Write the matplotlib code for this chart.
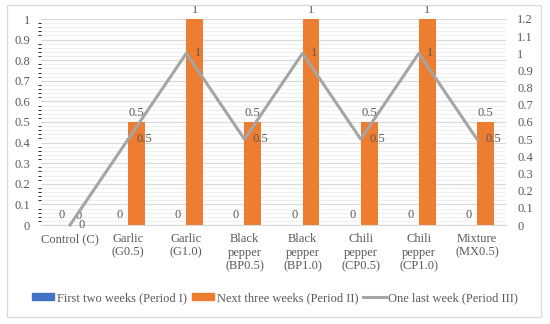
import numpy as np
import matplotlib.pyplot as plt
from matplotlib.patches import Rectangle
from matplotlib.lines import Line2D

# --- data ---
categories = ['Control (C)', 'Garlic\n(G0.5)', 'Garlic\n(G1.0)', 'Black\npepper\n(BP0.5)',
              'Black\npepper\n(BP1.0)', 'Chili\npepper\n(CP0.5)', 'Chili\npepper\n(CP1.0)',
              'Mixture\n(MX0.5)']
period1 = [0, 0, 0, 0, 0, 0, 0, 0]
period2 = [0, 0.5, 1, 0.5, 1, 0.5, 1, 0.5]
period3 = [0, 0.5, 1, 0.5, 1, 0.5, 1, 0.5]
series_names = ['First two weeks (Period I)', 'Next three weeks (Period II)',
                'One last week (Period III)']

BLUE, ORANGE, GRAY = '#4472C4', '#ED7D31', '#A5A5A5'
TXT = '#595959'
FONT = 'Liberation Serif'

plt.rcParams['font.family'] = [FONT, 'DejaVu Serif']

fig = plt.figure(figsize=(5.5, 3.24), dpi=100)
ax = fig.add_axes([41 / 550, 1 - 225 / 324, 465 / 550, 206 / 324])
ax2 = ax.twinx()

x = np.arange(len(categories))
w = 0.29

# gridlines
ax.set_ylim(0, 1)
ax.set_yticks(np.arange(0, 1.01, 0.1))
ax.set_yticks(np.arange(0, 1.001, 0.02), minor=True)
ax.yaxis.grid(True, which='minor', color='#F0F0F0', lw=0.8)
ax.yaxis.grid(True, which='major', color='#D9D9D9', lw=0.9)
ax.set_axisbelow(True)

b1 = ax.bar(x - w / 2, period1, w, color=BLUE, zorder=2)
b2 = ax.bar(x + w / 2, period2, w, color=ORANGE, zorder=2)

for xi, v in zip(x, period1):
    ax.annotate(f'{v:g}', (xi - w / 2, v), xytext=(0, 3), textcoords='offset points',
                ha='center', va='bottom', fontsize=9, color=TXT)
for xi, v in zip(x, period2):
    ax.annotate(f'{v:g}', (xi + w / 2, v), xytext=(0, 2), textcoords='offset points',
                ha='center', va='bottom', fontsize=9, color=TXT, annotation_clip=False)

ax2.set_ylim(0, 1.2)
ax2.set_yticks(np.arange(0, 1.21, 0.1))
ax2.plot(x, period3, color=GRAY, lw=2.2, zorder=3, clip_on=False)
for xi, v in zip(x, period3):
    ax2.annotate(f'{v:g}', (xi, v), xytext=(6, 0), textcoords='offset points',
                 ha='left', va='center', fontsize=9, color=TXT)

ax.set_xlim(-0.5, len(categories) - 0.5)
ax.set_xticks(x)
ax.set_xticklabels(categories, fontsize=9, color=TXT, linespacing=1.15)

ax.set_yticklabels([f'{v:g}' for v in np.round(np.arange(0, 1.01, 0.1), 1)])
ax2.set_yticklabels([f'{v:g}' for v in np.round(np.arange(0, 1.21, 0.1), 1)])
for a in (ax, ax2):
    a.tick_params(axis='y', length=0, labelsize=9, labelcolor=TXT, pad=8)
    for s in a.spines.values():
        s.set_visible(False)
ax.tick_params(axis='x', length=0, pad=6)
ax.spines['bottom'].set_visible(True)
ax.spines['bottom'].set_color('#D9D9D9')

handles = [Rectangle((0, 0), 1, 1, color=BLUE), Rectangle((0, 0), 1, 1, color=ORANGE),
           Line2D([], [], color=GRAY, lw=2.2)]
fig.legend(handles, series_names, loc='center', bbox_to_anchor=(0.5, 1 - 298 / 324),
           ncol=3, frameon=False, fontsize=9, labelcolor=TXT, handlelength=1.8,
           handleheight=0.45, handletextpad=0.2, columnspacing=0.4)

fig.patches.append(Rectangle((7 / 550, 1 - 317 / 324), 534 / 550, 312 / 324,
                             transform=fig.transFigure, fill=False, ec='#D9D9D9', lw=0.9))

fig.savefig('out.png', dpi=100)
